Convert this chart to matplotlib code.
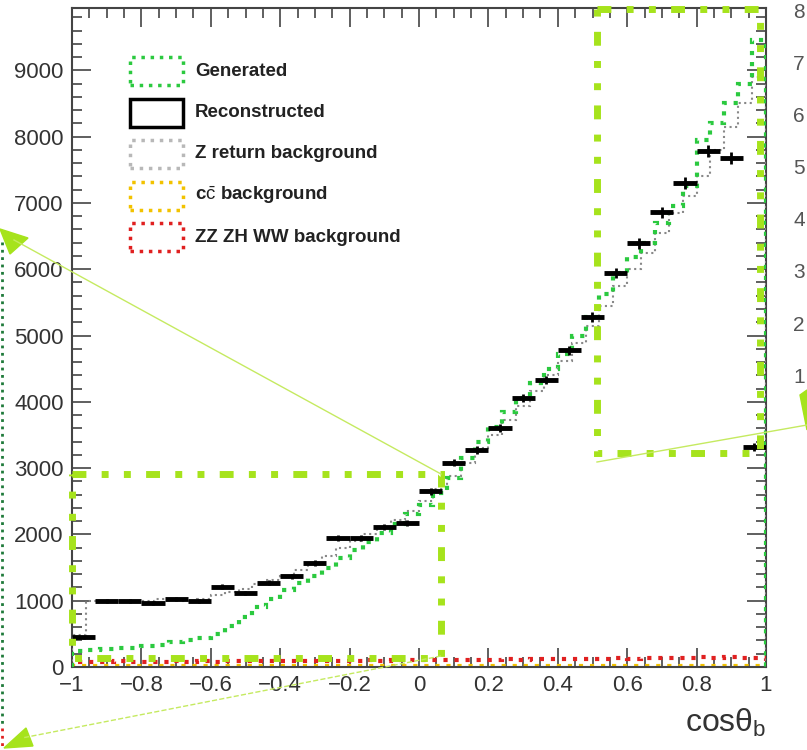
import numpy as np
import matplotlib
matplotlib.use("Agg")
from matplotlib import pyplot as plt
from matplotlib.patches import Rectangle, Polygon

plt.rcParams['font.family'] = ['Liberation Sans', 'DejaVu Sans']
plt.rcParams['mathtext.fontset'] = 'custom'
plt.rcParams['mathtext.rm'] = 'Liberation Sans'
plt.rcParams['mathtext.it'] = 'Liberation Sans:italic'

# Reconstructed: 30 bins in cos(theta_b)
reco = [450, 990, 1000, 960, 1020, 990, 1210, 1120, 1270, 1370,
        1570, 1950, 1950, 2110, 2170, 2650, 3080, 3270, 3600, 4060,
        4330, 4780, 5280, 5940, 6390, 6860, 7300, 7780, 7680, 3320]

# fine binned curves: 50 bins
generated = [240, 255, 265, 280, 290, 310, 330, 370, 400, 440,
             500, 620, 760, 900, 1020, 1160, 1260, 1370, 1500, 1640,
             1770, 1880, 2020, 2160, 2310, 2440, 2620, 2850, 3150, 3400,
             3620, 3850, 4060, 4280, 4500, 4720, 4990, 5280, 5620, 5950,
             6180, 6400, 6700, 6950, 7250, 7950, 8200, 8500, 8800, 9450]
zreturn = [480, 990, 1000, 990, 980, 1000, 1020, 1010, 1000, 1020,
           1080, 1130, 1180, 1250, 1310, 1380, 1460, 1560, 1680, 1800,
           1900, 2000, 2110, 2220, 2360, 2500, 2680, 2880, 3080, 3300,
           3500, 3720, 3940, 4160, 4400, 4620, 4880, 5150, 5450, 5750,
           6000, 6250, 6550, 6850, 7100, 7400, 7800, 8150, 8500, 8900]
ccbar = [12, 18, 14, 20, 15, 17, 13, 19, 16, 14, 18, 15, 20, 16, 13, 17, 19,
         15, 18, 14, 16, 20, 15, 17, 13, 19, 16, 18, 14, 17, 20, 15, 18, 16,
         14, 19, 17, 15, 18, 16, 20, 14, 17, 19, 15, 18, 16, 20, 17, 15]
zzzhww = [75, 80, 70, 85, 78, 82, 76, 88, 80, 84, 79, 86, 90, 83, 88, 92, 85,
          95, 90, 98, 93, 100, 96, 104, 99, 106, 102, 110, 105, 112, 108, 116,
          112, 120, 115, 124, 118, 128, 122, 132, 126, 136, 130, 140, 134, 146,
          138, 150, 142, 135]

legend_labels = ['Generated', 'Reconstructed', 'Z return background',
                 r'c$\bar{\rm c}$ background', 'ZZ ZH WW background']
legend_colors = ['#2bc93f', 'black', '#b8b8b8', '#f2c200', '#e02020']

side_labels = ['8', '7', '6', '5', '4', '3', '2', '1']

W, H = 807, 750
fig = plt.figure(figsize=(W / 100, H / 100), dpi=100)
ax = fig.add_axes([72 / W, 1 - 667 / H, (766 - 72) / W, (667 - 8) / H])

edges30 = np.linspace(-1, 1, len(reco) + 1)
edges50 = np.linspace(-1, 1, len(generated) + 1)
centers30 = 0.5 * (edges30[1:] + edges30[:-1])

ax.stairs(ccbar, edges50, color='#f2c200', lw=3, ls=':', zorder=2)
ax.stairs(zzzhww, edges50, color='#e02020', lw=3, ls=':', zorder=3)
ax.stairs(zreturn, edges50, color='#888888', lw=1.5, ls=':', zorder=4)
ax.stairs(generated, edges50, color='#2bc93f', lw=3, ls=':', zorder=5)

reco = np.array(reco)
ax.hlines(reco, edges30[:-1], edges30[1:], color='black', lw=3.5, zorder=6)
ax.vlines(centers30, reco - np.sqrt(reco), reco + np.sqrt(reco),
          color='black', lw=2, zorder=6)

ax.set_xlim(-1, 1)
ax.set_ylim(0, 9940)
ax.set_xticks(np.arange(-1, 1.01, 0.2))
ax.set_xticks(np.arange(-1, 1.01, 0.05), minor=True)
ax.set_yticks(np.arange(0, 9001, 1000))
ax.set_yticks(np.arange(0, 9901, 200), minor=True)
ax.set_xticklabels(['\u22121', '\u22120.8', '\u22120.6', '\u22120.4', '\u22120.2',
                    '0', '0.2', '0.4', '0.6', '0.8', '1'])
ax.tick_params(which='both', direction='in', top=True, right=True,
               color='#444444', width=1.2, labelsize=16, labelcolor='#333333')
ax.tick_params(which='major', length=14)
ax.tick_params(which='minor', length=7)
ax.tick_params(axis='y', pad=6)
ax.tick_params(axis='x', pad=6)
for s in ax.spines.values():
    s.set_color('#444444')
    s.set_linewidth(1.5)

ax.text(1.0, -0.06, 'cos\u03b8$_{\\rm b}$', transform=ax.transAxes,
        ha='right', va='top', fontsize=23, color='#333333')

# legend, drawn by hand like the ROOT TLegend boxes
for i, (lab, col) in enumerate(zip(legend_labels, legend_colors)):
    yc = 71 + i * 41.5
    ls = '-' if lab == 'Reconstructed' else ':'
    fig.add_artist(Rectangle((130 / W, 1 - (yc + 14) / H), 53 / W, 28 / H,
                             transform=fig.transFigure, fill=False,
                             edgecolor=col, lw=2.5, ls=ls))
    fig.text(195 / W, 1 - yc / H, lab, fontsize=13.5, fontweight='bold',
             color='#222222', va='center', ha='left')

# neighbouring panel labels cut off at the right edge
for i, t in enumerate(side_labels):
    fig.text(793 / W, 1 - (12 + i * 52.2) / H, t, fontsize=15,
             color='#555555', va='center', ha='left')

# annotation overlay in pixel coordinates
ov = fig.add_axes([0, 0, 1, 1], zorder=10)
ov.set_xlim(0, W)
ov.set_ylim(H, 0)
ov.axis('off')
ov.patch.set_alpha(0)

lime = '#a6e31c'
dash = (0, (2, 2.2, 1, 2.2, 1, 2.2))
ov.add_patch(Rectangle((72, 474), 369, 184, fill=False, edgecolor=lime,
                       lw=5, ls=dash, capstyle='butt'))
ov.add_patch(Rectangle((597, 9), 163, 444, fill=False, edgecolor=lime,
                       lw=5, ls=dash, capstyle='butt'))

thin = '#c5ea60'
ov.plot([441, 14], [474, 240], color=thin, lw=1)
ov.add_patch(Polygon([[0, 229], [28, 238], [10, 254]], closed=True,
                     color=lime))
ov.plot([441, 22], [656, 738], color=thin, lw=1, ls='--')
ov.add_patch(Polygon([[4, 748], [26, 728], [33, 746]], closed=True,
                     color=lime))
ov.plot([597, 807], [462, 425], color=thin, lw=1)
ov.add_patch(Polygon([[800, 395], [807, 390], [807, 430]], closed=True,
                     color=lime))

ov.plot([2, 2], [242, 725], color='#1f7a3a', lw=2, ls=':')
ov.plot([2, 2], [728, 748], color='#e02020', lw=2, ls=':')

fig.savefig('out.png', dpi=100)
